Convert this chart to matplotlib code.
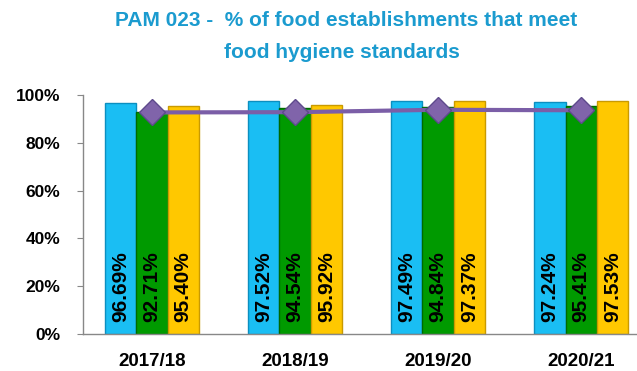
import numpy as np
import matplotlib.pyplot as plt

years = ["2017/18", "2018/19", "2019/20", "2020/21"]
blue_vals = [96.69, 97.52, 97.49, 97.24]
green_vals = [92.71, 94.54, 94.84, 95.41]
yellow_vals = [95.40, 95.92, 97.37, 97.53]
# average line drawn over the bars
avg_vals = [92.7, 92.8, 93.8, 93.6]

plt.rcParams['font.family'] = ['Liberation Sans', 'DejaVu Sans']

fig = plt.figure(figsize=(6.37, 3.71), dpi=100)
ax = fig.add_axes([0.130, 0.100, 0.870, 0.644])

x = np.arange(len(years))
w = 0.219
series = [(blue_vals, '#1ABEF3', '#0C8FC0', -w),
          (green_vals, '#009A00', '#006A00', 0.0),
          (yellow_vals, '#FFC800', '#C99A00', w)]

for vals, fc, ec, off in series:
    v = np.array(vals) / 100
    ax.bar(x + off, v, w, color=fc, edgecolor=ec, linewidth=1.0, zorder=2)
    for xi, val in zip(x + off, vals):
        ax.text(xi, 0.05, f"{val:.2f}%", rotation=90, ha='center', va='bottom',
                fontsize=15, fontweight='bold', color='black', zorder=4)

ax.plot(x, np.array(avg_vals) / 100, color='#7B5EA7', lw=3, marker='D',
        markersize=13, markerfacecolor='#8064AA', markeredgecolor='#5E4A8C',
        markeredgewidth=1, zorder=3)

ax.set_xlim(-0.4825, 3.39)
ax.set_ylim(0, 1)
ax.set_yticks(np.linspace(0, 1, 6))
ax.set_yticklabels([f"{int(t)}%" for t in np.linspace(0, 100, 6)],
                   fontsize=12.5, fontweight='bold')
ax.set_xticks(x)
ax.set_xticklabels(years, fontsize=13.5, fontweight='bold')
ax.tick_params(axis='x', length=0, pad=14)
ax.tick_params(axis='y', length=4, color='#888888', pad=12, direction='out')

for s in ['top', 'right']:
    ax.spines[s].set_visible(False)
for s in ['left', 'bottom']:
    ax.spines[s].set_color('#888888')
    ax.spines[s].set_linewidth(1)

fig.text(0.543, 0.945, "PAM 023 -  % of food establishments that meet",
         ha='center', va='center', fontsize=15, fontweight='bold', color='#1B9BCF')
fig.text(0.537, 0.858, "food hygiene standards",
         ha='center', va='center', fontsize=15, fontweight='bold', color='#1B9BCF')

fig.savefig('out.png', dpi=100)
